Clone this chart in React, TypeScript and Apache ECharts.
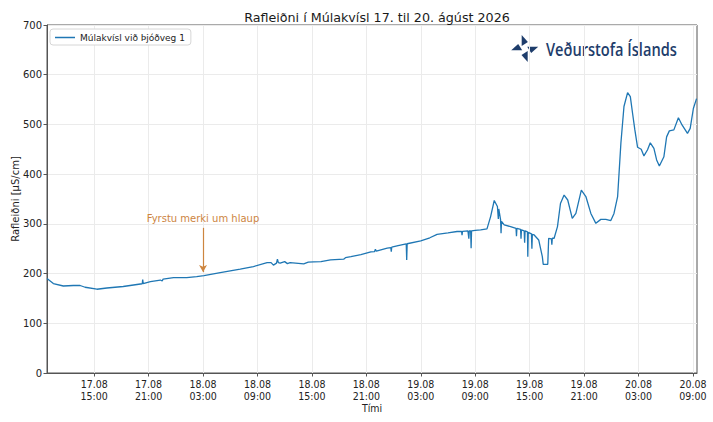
import React, { useEffect, useRef } from "react";
import * as echarts from "echarts";

const TITLE = "Rafleiðni í Múlakvísl 17. til 20. ágúst 2026";
const SERIES_NAME = "Múlakvísl við Þjóðveg 1";
const Y_NAME = "Rafleiðni [µS/cm]";
const X_NAME = "Tími";
const ANNOTATION = "Fyrstu merki um hlaup";
const LOGO_TEXT = "Veðurstofa Íslands";

// hours since 17.08 00:00
const tickHours = [15, 21, 27, 33, 39, 45, 51, 57, 63, 69, 75, 81];
const tickLabels = [
  "17.08\n15:00", "17.08\n21:00", "18.08\n03:00", "18.08\n09:00",
  "18.08\n15:00", "18.08\n21:00", "19.08\n03:00", "19.08\n09:00",
  "19.08\n15:00", "19.08\n21:00", "20.08\n03:00", "20.08\n09:00",
];

const hours = [
  9.8, 10.5, 11.6, 12.7, 13.45, 14.0, 15.3, 16.4, 18.2, 20.1, 20.3, 20.35, 20.4,
  21.2, 22.3, 22.5, 22.6, 23.75, 25.2, 26.3, 27.1, 28.9, 31.1, 32.55, 34.06, 34.5,
  34.76, 35.1, 35.2, 35.3, 35.5, 36.0, 36.3, 36.6, 37.2, 38.1, 38.6, 39.2, 40.0,
  41.05, 42.5, 42.7, 43.3, 44.4, 45.5, 45.9, 46.0, 46.1, 47.3, 47.7, 47.75, 47.8,
  48.5, 49.4, 49.45, 49.5, 51.0, 52.0, 52.8, 54.0, 55.0, 55.5, 55.55, 55.6, 56.2,
  56.3, 56.35, 56.5, 56.55, 56.6, 57.0, 57.6, 58.3, 58.7, 59.1, 59.45, 59.55, 59.6,
  59.8, 59.85, 59.9, 60.2, 60.9, 61.5, 61.55, 61.6, 62.0, 62.05, 62.1, 62.4, 62.45,
  62.5, 62.76, 62.8, 62.85, 63.2, 63.25, 63.3, 63.5, 64.0, 64.4, 64.5, 65.0, 65.1,
  65.4, 65.45, 65.5, 65.7, 66.07, 66.4, 66.8, 67.2, 67.7, 68.1, 68.7, 69.2, 69.75,
  70.3, 70.85, 71.4, 71.95, 72.3, 72.7, 73.06, 73.4, 73.8, 74.1, 74.35, 74.6, 74.9,
  75.3, 75.6, 76.0, 76.3, 76.7, 77.0, 77.3, 77.8, 78.1, 78.4, 78.9, 79.4, 79.8,
  80.4, 80.7, 81.05, 81.4,
];

const values = [
  190, 180, 175, 176, 176, 172.5, 168.5, 171, 174, 179, 179.5, 188, 180,
  184, 187, 185, 189, 192, 192, 194, 196, 202, 209, 214, 222, 222,
  217, 221, 229, 222, 221, 224, 220, 222, 221, 219.5, 223, 223.5, 224,
  227.5, 229, 232, 234, 238, 243.6, 244, 249, 245, 251, 252, 244, 253,
  256, 259.7, 227.5, 260, 265.8, 272, 279, 282, 284.6, 285, 277, 285, 286,
  270, 286, 286, 251, 286, 287, 288, 290, 314.6, 347, 335, 310, 330,
  308, 281, 305, 298, 294.4, 291, 275, 291, 289, 270, 288, 286, 262,
  286, 284, 234, 283, 280, 250, 279, 277.7, 267.6, 234, 218.6, 218.6, 271,
  270, 258, 271, 271, 294.5, 341, 358, 348, 311, 321, 368, 355, 321,
  301, 309, 309, 306.6, 321, 355, 462, 536, 564, 556, 522, 489, 454,
  450, 436.6, 449, 463, 452, 428.5, 416.5, 435, 475, 487, 489, 513.6, 499,
  482, 492, 532, 552,
];

// annotation: hour, text value, arrow start value, arrow end value
const annotationHour = 27;
const annotationTextValue = 310;
const arrowFrom = 292;
const arrowTo = 203;

const ORANGE = "#cd853f";
const NAVY = "#1e3d6b";

function measure(text: string, font: string): number {
  const c = document.createElement("canvas").getContext("2d");
  if (!c) return 0;
  c.font = font;
  return c.measureText(text).width;
}

export default function App() {
  const ref = useRef<HTMLDivElement>(null);
  useEffect(() => {
    document.body.style.margin = "0";
    if (!ref.current) return;
    const chart = echarts.init(ref.current, undefined, { renderer: "svg" });
    const data = hours.map((h, i) => [h, values[i]]);
    const axisColor = "#555";
    const textColor = "#222";
    const logoFont = "600 18px 'Open Sans'";
    const logoW = measure(LOGO_TEXT, logoFont) || 150;
    const logoScale = 131 / logoW;
    chart.setOption({
      animation: false,
      backgroundColor: "#fff",
      textStyle: { fontFamily: "DejaVu Sans" },
      title: {
        text: TITLE,
        left: 372,
        top: 6,
        textAlign: "center",
        textStyle: { fontSize: 12.7, fontWeight: "normal", color: "#1a1a1a", fontFamily: "DejaVu Sans" },
      },
      legend: {
        data: [SERIES_NAME],
        left: 50,
        top: 29,
        backgroundColor: "#fff",
        borderColor: "#d6d6d6",
        borderWidth: 1,
        borderRadius: 3,
        padding: [4, 6, 3, 5],
        itemWidth: 20,
        itemHeight: 1.5,
        itemGap: 5,
        icon: "rect",
        textStyle: { fontSize: 9, color: textColor, fontFamily: "DejaVu Sans" },
      },
      grid: {
        left: 47,
        right: 16,
        top: 25,
        bottom: 49,
        outerBoundsMode: "none",
        containLabel: false,
        show: true,
        borderColor: axisColor,
        borderWidth: 1,
        backgroundColor: "transparent",
      },
      xAxis: {
        type: "value",
        min: 9.8,
        max: 81.45,
        name: X_NAME,
        nameLocation: "middle",
        nameGap: 29,
        nameMoveOverlap: false,
        nameTextStyle: { fontSize: 10.5, color: textColor, fontFamily: "DejaVu Sans Condensed, DejaVu Sans" },
        axisLine: { show: true, lineStyle: { color: axisColor } },
        axisTick: { show: true, customValues: tickHours, length: 3.5, lineStyle: { color: axisColor } },
        axisLabel: {
          customValues: tickHours,
          formatter: (v: number) => {
            const i = tickHours.indexOf(Math.round(v));
            return i >= 0 ? tickLabels[i] : "";
          },
          fontSize: 10.5,
          lineHeight: 12,
          margin: 5,
          color: textColor,
          fontFamily: "DejaVu Sans Condensed, DejaVu Sans",
        },
        splitLine: { show: true, lineStyle: { color: "#ebebeb", width: 1 } },
      },
      yAxis: {
        type: "value",
        min: 0,
        max: 700,
        interval: 100,
        name: Y_NAME,
        nameLocation: "middle",
        nameGap: 27,
        nameMoveOverlap: false,
        nameRotate: 90,
        nameTextStyle: { fontSize: 10, color: textColor },
        axisLine: { show: true, lineStyle: { color: axisColor } },
        axisTick: { show: true, length: 3.5, lineStyle: { color: axisColor } },
        axisLabel: { fontSize: 10, color: textColor, margin: 5 },
        splitLine: { show: true, lineStyle: { color: "#ebebeb", width: 1 } },
      },
      graphic: [
        {
          type: "group",
          x: 524.7,
          y: 48.5,
          children: [
            { type: "polygon", shape: { points: [[-3, -13.5], [-3, -2.5], [3.2, -6.5]] }, style: { fill: NAVY } },
            { type: "polygon", shape: { points: [[-13.5, 1.8], [-2.5, 1.8], [-6.5, -4.4]] }, style: { fill: NAVY } },
            { type: "polygon", shape: { points: [[13.5, -1.8], [2.5, -1.8], [6.5, 4.4]] }, style: { fill: NAVY } },
            { type: "polygon", shape: { points: [[3, 13.5], [3, 2.5], [-3.2, 6.5]] }, style: { fill: NAVY } },
          ],
        },
        {
          type: "text",
          x: 546,
          y: 49,
          scaleX: logoScale,
          style: {
            text: LOGO_TEXT,
            fill: NAVY,
            font: logoFont,
            verticalAlign: "middle",
            textAlign: "left",
          },
        },
      ],
      series: [
        {
          name: SERIES_NAME,
          type: "line",
          data,
          showSymbol: false,
          symbol: "none",
          lineStyle: { color: "#1f77b4", width: 1.3 },
          itemStyle: { color: "#1f77b4" },
          z: 3,
          markLine: {
            silent: true,
            symbol: ["none", "arrow"],
            symbolSize: [6, 7],
            label: { show: false },
            lineStyle: { color: ORANGE, width: 1.2, type: "solid" },
            data: [[{ coord: [annotationHour, arrowFrom] }, { coord: [annotationHour, arrowTo] }]],
          },
          markPoint: {
            silent: true,
            symbol: "circle",
            symbolSize: 0,
            label: {
              show: true,
              position: "inside",
              formatter: ANNOTATION,
              color: ORANGE,
              fontSize: 10,
              fontFamily: "DejaVu Sans",
            },
            data: [{ coord: [annotationHour, annotationTextValue] }],
          },
        },
      ],
    });
    return () => chart.dispose();
  }, []);
  return <div ref={ref} style={{ width: 713, height: 422 }} />;
}
